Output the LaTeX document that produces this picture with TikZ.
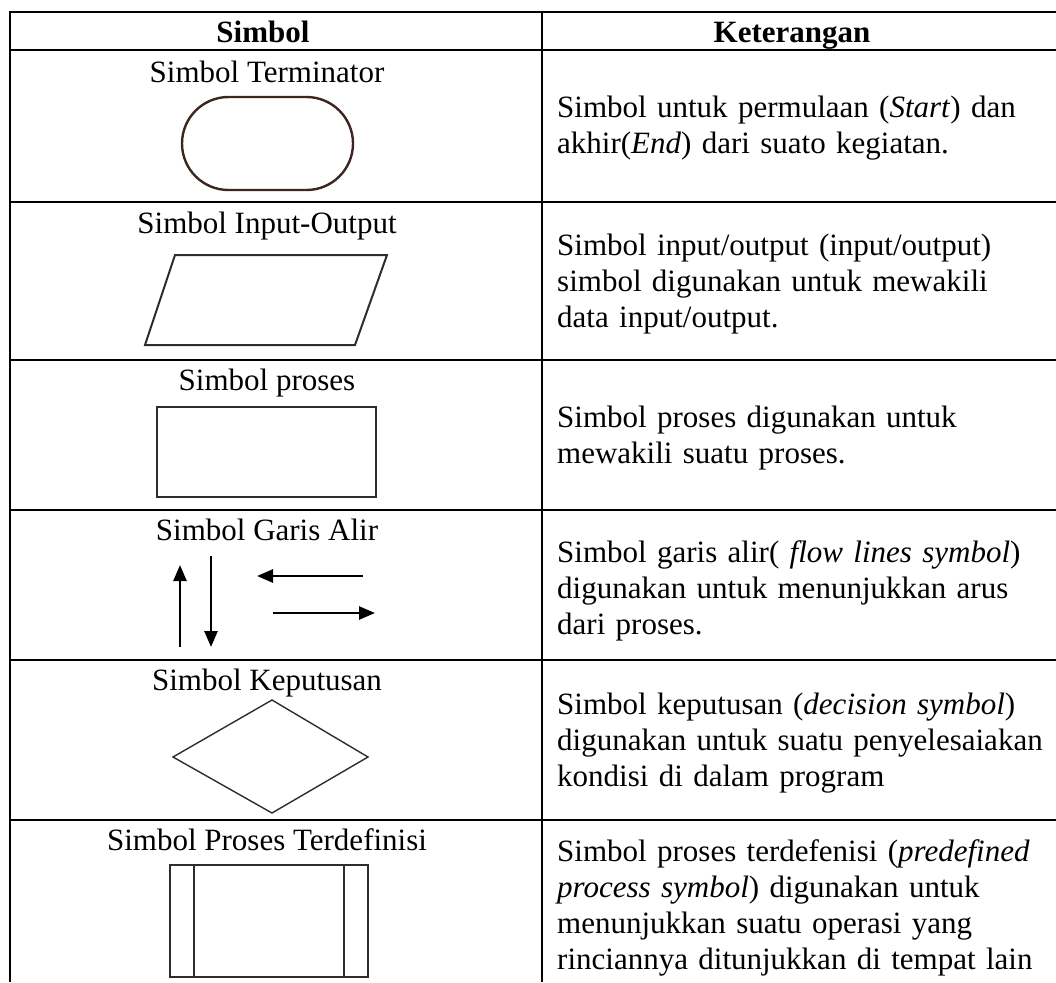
\documentclass[tikz,border=0pt]{standalone}
\usepackage{fontspec}
\setmainfont{Liberation Serif}
\usetikzlibrary{arrows.meta}
\begin{document}
\begin{tikzpicture}[x=1pt,y=-1pt,
  grid/.style={line width=2.8pt, black},
  lbl/.style={inner sep=0pt, anchor=base, font=\fontsize{31}{36}\selectfont},
  desc/.style={inner sep=0pt, anchor=base west, text width=495pt, align=left, font=\fontsize{31}{36}\selectfont},
  shp/.style={line width=2pt, draw={rgb,255:red,45;green,45;blue,45}},
  termshp/.style={line width=2.4pt, draw={rgb,255:red,62;green,38;blue,32}, rounded corners=46.5pt},
  flow/.style={line width=2.6pt, black, -{Triangle[length=16pt,width=13pt]}}
]
\useasboundingbox (0,0) rectangle (1056,982);
% table grid
\draw[grid] (1056,12) -- (10,12) -- (10,982);
\draw[grid] (542,12) -- (542,982);
\foreach \yy in {50,202,360,510,660,820} \draw[grid] (10,\yy) -- (1056,\yy);

% header
\node[lbl] (h1) at (263,43) {\textbf{Simbol}};
\node[lbl] (h2) at (792,43) {\textbf{Keterangan}};

% left labels
\node[lbl] (l1) at (267,82) {Simbol Terminator};
\node[lbl] (l2) at (267,233) {Simbol Input-Output};
\node[lbl] (l3) at (267,390) {Simbol proses};
\node[lbl] (l4) at (267,540) {Simbol Garis Alir};
\node[lbl] (l5) at (267,690) {Simbol Keputusan};
\node[lbl] (l6) at (267,850) {Simbol Proses Terdefinisi};

% descriptions
\node[desc] (d1) at (557,117) {Simbol untuk permulaan (\textit{Start}) dan\\akhir(\textit{End}) dari suato kegiatan.};
\node[desc] (d2) at (557,255) {Simbol input/output (input/output)\\simbol digunakan untuk mewakili\\data input/output.};
\node[desc] (d3) at (557,427) {Simbol proses digunakan untuk\\mewakili suatu proses.};
\node[desc] (d4) at (557,562) {Simbol garis alir( \textit{flow lines symbol})\\digunakan untuk menunjukkan arus\\dari proses.};
\node[desc] (d5) at (557,714) {Simbol keputusan (\textit{decision symbol})\\digunakan untuk suatu penyelesaiakan\\kondisi di dalam program};
\node[desc] (d6) at (557,861) {Simbol proses terdefenisi (\textit{predefined}\\\textit{process symbol}) digunakan untuk\\menunjukkan suatu operasi yang\\rinciannya ditunjukkan di tempat lain};

% terminator
\draw[termshp] (182,97) rectangle (353,190);
% input-output
\draw[shp] (175,255) -- (387,255) -- (355,345) -- (145,345) -- cycle;
% process
\draw[shp] (157,407) rectangle (376,497);
% flow lines
\coordinate (upS) at (180,647);
\coordinate (upE) at (180,565);
\coordinate (dnS) at (211,556);
\coordinate (dnE) at (211,647);
\coordinate (lfS) at (363,576);
\coordinate (lfE) at (257,576);
\coordinate (rtS) at (273,613);
\coordinate (rtE) at (375,613);
\draw[flow] (upS) -- (upE);
\draw[flow] (dnS) -- (dnE);
\draw[flow] (lfS) -- (lfE);
\draw[flow] (rtS) -- (rtE);
% decision
\draw[shp, line width=1.4pt] (272,700) -- (368,757) -- (272,813) -- (173,757) -- cycle;
% predefined process
\draw[shp, line width=1.8pt] (170,865) rectangle (368,977);
\draw[shp, line width=1.8pt] (194,865) -- (194,977);
\draw[shp, line width=1.8pt] (344,865) -- (344,977);
\end{tikzpicture}
\end{document}
